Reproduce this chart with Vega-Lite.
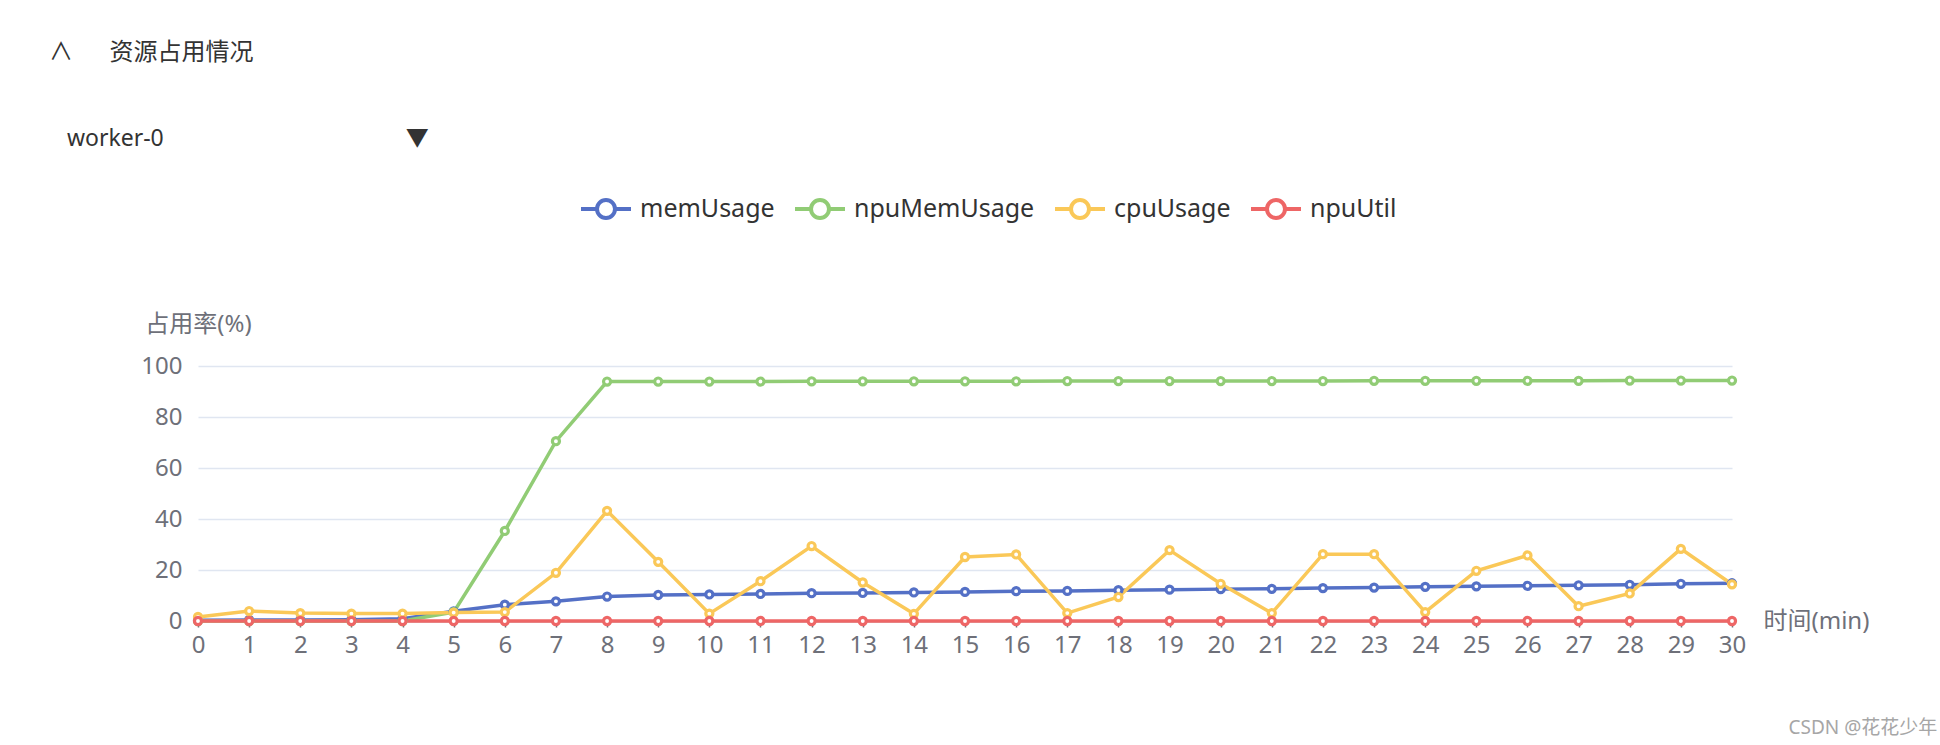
{
  "$schema": "https://vega.github.io/schema/vega-lite/v6.json",
  "autosize": {"type": "none"},
  "width": 1534,
  "height": 255,
  "padding": {"left": 198, "top": 366, "right": 208, "bottom": 124},
  "background": "white",
  "title": {
    "text": "∧\u3000\u00a0\u00a0资源占用情况",
    "subtitle": "\u200b\u00a0\u00a0\u00a0worker-0\u3000\u3000\u3000\u3000\u3000\u3000\u3000\u3000\u3000\u3000\u00a0\u00a0▼",
    "anchor": "start",
    "frame": "group",
    "dx": -149,
    "dy": -27,
    "fontSize": 24,
    "fontWeight": "normal",
    "color": "#333333",
    "subtitleFontSize": 23,
    "subtitleColor": "#333333",
    "subtitlePadding": 63,
    "font": "Noto Sans, Noto Sans CJK SC, sans-serif",
    "subtitleFont": "Noto Sans, Noto Sans CJK SC, sans-serif"
  },
  "config": {
    "font": "Noto Sans, Noto Sans CJK SC, sans-serif",
    "view": {"stroke": null}
  },
  "data": {
    "values": [
      {"t":0,"s":"memUsage","v":0.3},{"t":1,"s":"memUsage","v":0.4},{"t":2,"s":"memUsage","v":0.4},{"t":3,"s":"memUsage","v":0.5},{"t":4,"s":"memUsage","v":0.9},{"t":5,"s":"memUsage","v":3.8},{"t":6,"s":"memUsage","v":6.4},{"t":7,"s":"memUsage","v":7.7},{"t":8,"s":"memUsage","v":9.6},{"t":9,"s":"memUsage","v":10.2},{"t":10,"s":"memUsage","v":10.4},{"t":11,"s":"memUsage","v":10.6},{"t":12,"s":"memUsage","v":10.9},{"t":13,"s":"memUsage","v":11.0},{"t":14,"s":"memUsage","v":11.2},{"t":15,"s":"memUsage","v":11.4},{"t":16,"s":"memUsage","v":11.7},{"t":17,"s":"memUsage","v":11.8},{"t":18,"s":"memUsage","v":12.1},{"t":19,"s":"memUsage","v":12.3},{"t":20,"s":"memUsage","v":12.5},{"t":21,"s":"memUsage","v":12.6},{"t":22,"s":"memUsage","v":12.9},{"t":23,"s":"memUsage","v":13.1},{"t":24,"s":"memUsage","v":13.4},{"t":25,"s":"memUsage","v":13.6},{"t":26,"s":"memUsage","v":13.8},{"t":27,"s":"memUsage","v":14.0},{"t":28,"s":"memUsage","v":14.2},{"t":29,"s":"memUsage","v":14.6},{"t":30,"s":"memUsage","v":14.8},
      {"t":0,"s":"npuMemUsage","v":0},{"t":1,"s":"npuMemUsage","v":0},{"t":2,"s":"npuMemUsage","v":0},{"t":3,"s":"npuMemUsage","v":0},{"t":4,"s":"npuMemUsage","v":0},{"t":5,"s":"npuMemUsage","v":3.5},{"t":6,"s":"npuMemUsage","v":35.3},{"t":7,"s":"npuMemUsage","v":70.5},{"t":8,"s":"npuMemUsage","v":93.9},{"t":9,"s":"npuMemUsage","v":93.9},{"t":10,"s":"npuMemUsage","v":93.9},{"t":11,"s":"npuMemUsage","v":93.9},{"t":12,"s":"npuMemUsage","v":94.0},{"t":13,"s":"npuMemUsage","v":94.0},{"t":14,"s":"npuMemUsage","v":94.0},{"t":15,"s":"npuMemUsage","v":94.0},{"t":16,"s":"npuMemUsage","v":94.0},{"t":17,"s":"npuMemUsage","v":94.1},{"t":18,"s":"npuMemUsage","v":94.1},{"t":19,"s":"npuMemUsage","v":94.1},{"t":20,"s":"npuMemUsage","v":94.1},{"t":21,"s":"npuMemUsage","v":94.1},{"t":22,"s":"npuMemUsage","v":94.1},{"t":23,"s":"npuMemUsage","v":94.2},{"t":24,"s":"npuMemUsage","v":94.2},{"t":25,"s":"npuMemUsage","v":94.2},{"t":26,"s":"npuMemUsage","v":94.2},{"t":27,"s":"npuMemUsage","v":94.2},{"t":28,"s":"npuMemUsage","v":94.3},{"t":29,"s":"npuMemUsage","v":94.3},{"t":30,"s":"npuMemUsage","v":94.3},
      {"t":0,"s":"cpuUsage","v":1.6},{"t":1,"s":"cpuUsage","v":3.9},{"t":2,"s":"cpuUsage","v":3.1},{"t":3,"s":"cpuUsage","v":2.9},{"t":4,"s":"cpuUsage","v":2.9},{"t":5,"s":"cpuUsage","v":3.3},{"t":6,"s":"cpuUsage","v":3.5},{"t":7,"s":"cpuUsage","v":18.9},{"t":8,"s":"cpuUsage","v":43.2},{"t":9,"s":"cpuUsage","v":23.2},{"t":10,"s":"cpuUsage","v":2.9},{"t":11,"s":"cpuUsage","v":15.6},{"t":12,"s":"cpuUsage","v":29.4},{"t":13,"s":"cpuUsage","v":15.1},{"t":14,"s":"cpuUsage","v":2.8},{"t":15,"s":"cpuUsage","v":25.1},{"t":16,"s":"cpuUsage","v":26.1},{"t":17,"s":"cpuUsage","v":3.1},{"t":18,"s":"cpuUsage","v":9.4},{"t":19,"s":"cpuUsage","v":27.8},{"t":20,"s":"cpuUsage","v":14.6},{"t":21,"s":"cpuUsage","v":3.1},{"t":22,"s":"cpuUsage","v":26.2},{"t":23,"s":"cpuUsage","v":26.2},{"t":24,"s":"cpuUsage","v":3.5},{"t":25,"s":"cpuUsage","v":19.7},{"t":26,"s":"cpuUsage","v":25.7},{"t":27,"s":"cpuUsage","v":5.8},{"t":28,"s":"cpuUsage","v":10.8},{"t":29,"s":"cpuUsage","v":28.3},{"t":30,"s":"cpuUsage","v":14.4},
      {"t":0,"s":"npuUtil","v":0},{"t":1,"s":"npuUtil","v":0},{"t":2,"s":"npuUtil","v":0},{"t":3,"s":"npuUtil","v":0},{"t":4,"s":"npuUtil","v":0},{"t":5,"s":"npuUtil","v":0},{"t":6,"s":"npuUtil","v":0},{"t":7,"s":"npuUtil","v":0},{"t":8,"s":"npuUtil","v":0},{"t":9,"s":"npuUtil","v":0},{"t":10,"s":"npuUtil","v":0},{"t":11,"s":"npuUtil","v":0},{"t":12,"s":"npuUtil","v":0},{"t":13,"s":"npuUtil","v":0},{"t":14,"s":"npuUtil","v":0},{"t":15,"s":"npuUtil","v":0},{"t":16,"s":"npuUtil","v":0},{"t":17,"s":"npuUtil","v":0},{"t":18,"s":"npuUtil","v":0},{"t":19,"s":"npuUtil","v":0},{"t":20,"s":"npuUtil","v":0},{"t":21,"s":"npuUtil","v":0},{"t":22,"s":"npuUtil","v":0},{"t":23,"s":"npuUtil","v":0},{"t":24,"s":"npuUtil","v":0},{"t":25,"s":"npuUtil","v":0},{"t":26,"s":"npuUtil","v":0},{"t":27,"s":"npuUtil","v":0},{"t":28,"s":"npuUtil","v":0},{"t":29,"s":"npuUtil","v":0},{"t":30,"s":"npuUtil","v":0}
    ]
  },
  "encoding": {
    "x": {
      "field": "t", "type": "quantitative",
      "scale": {"domain": [0, 30], "nice": false, "zero": false},
      "axis": {
        "title": "时间(min)",
        "values": [0,1,2,3,4,5,6,7,8,9,10,11,12,13,14,15,16,17,18,19,20,21,22,23,24,25,26,27,28,29,30],
        "grid": false,
        "domainColor": "#6e7079", "domainWidth": 1.5,
        "tickColor": "#6e7079", "tickSize": 6, "tickWidth": 1.5,
        "labelFontSize": 24, "labelColor": "#6e7079", "labelPadding": 6, "labelFlush": false, "labelOverlap": false,
        "titleFontSize": 24, "titleColor": "#6e7079", "titleFontWeight": "normal",
        "titleX": 1565, "titleY": 0, "titleAlign": "left", "titleBaseline": "middle", "titleAngle": 0
      }
    },
    "color": {
      "field": "s", "type": "nominal",
      "scale": {
        "domain": ["memUsage", "npuMemUsage", "cpuUsage", "npuUtil"],
        "range": ["#5470c6", "#91cc75", "#fac858", "#ee6666"]
      },
      "legend": {
        "title": null,
        "orient": "none",
        "legendX": 381,
        "legendY": -184,
        "direction": "horizontal",
        "symbolType": "M-1,0H-0.36M0.36,0H1M-0.36,0A0.36,0.36 0 1,0 0.36,0A0.36,0.36 0 1,0 -0.36,0",
        "symbolSize": 2500,
        "symbolStrokeWidth": 4,
        "symbolFillColor": "#ffffff",
        "labelFontSize": 25,
        "labelLimit": 0,
        "labelColor": "#333333",
        "labelOffset": 7,
        "columnPadding": 12
      }
    }
  },
  "layer": [
    {
      "layer": [
        {"mark": {"type": "line", "strokeWidth": 3.5}},
        {"mark": {"type": "point", "filled": false, "fill": "#ffffff", "fillOpacity": 1, "opacity": 1, "size": 50, "strokeWidth": 3.2}}
      ],
      "encoding": {
        "y": {
          "field": "v", "type": "quantitative",
          "scale": {"domain": [0, 100], "nice": false},
          "axis": {
            "title": "占用率(%)",
            "values": [0, 20, 40, 60, 80, 100],
            "grid": true, "gridColor": "#e0e6f1", "gridWidth": 1.5,
            "domain": false, "ticks": false,
            "labelFontSize": 24, "labelColor": "#6e7079", "labelPadding": 16,
            "titleFontSize": 24, "titleColor": "#6e7079", "titleFontWeight": "normal",
            "titleX": 0, "titleY": -42, "titleAlign": "center", "titleBaseline": "middle", "titleAngle": 0
          }
        }
      }
    },
    {
      "mark": {"type": "point", "opacity": 0},
      "encoding": {
        "y": {
          "field": "v", "type": "quantitative",
          "scale": {"domain": [0, 100], "nice": false},
          "axis": {
            "orient": "right",
            "title": "CSDN @花花少年",
            "labels": false, "ticks": false, "domain": false, "grid": false,
            "titleFontSize": 19, "titleColor": "#a6a6a6", "titleFontWeight": "normal",
            "titleX": 56, "titleY": 361, "titleAlign": "left", "titleBaseline": "middle", "titleAngle": 0
          }
        }
      }
    }
  ],
  "resolve": {"scale": {"y": "independent"}, "axis": {"y": "independent"}}
}
